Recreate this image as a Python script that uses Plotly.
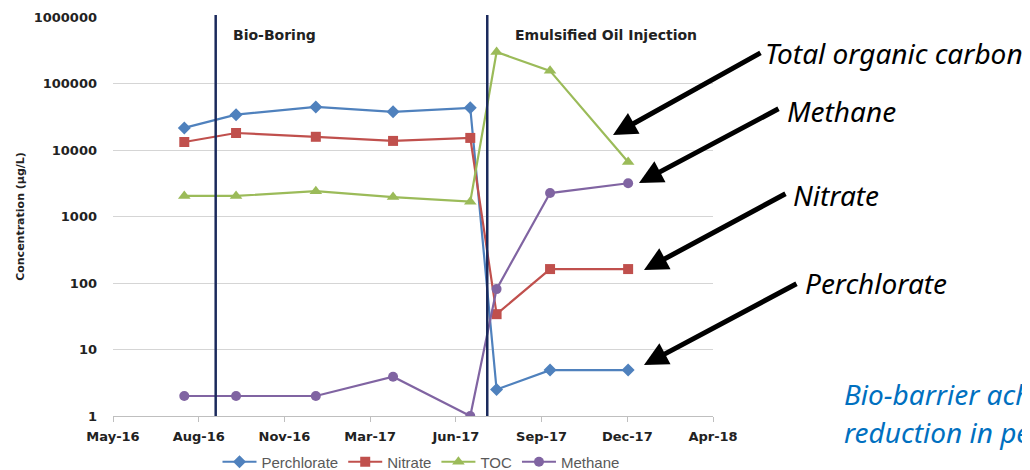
import plotly.graph_objects as go
import pandas as pd

# ---------------- data ----------------
sample_dates = ["2016-07-26", "2016-09-25", "2016-12-28", "2017-03-29",
                "2017-06-28", "2017-07-29", "2017-09-30", "2017-12-31"]
perchlorate = [21500, 34000, 44500, 37500, 43000, 2.5, 4.9, 4.9]
nitrate = [13200, 18000, 15800, 13700, 15200, 34, 162, 162]
toc = [2040, 2040, 2400, 1960, 1670, 297000, 155000, 6600]
methane = [2.0, 2.0, 2.0, 3.9, 1.0, 81, 2250, 3160]

event_dates = ["2016-09-01", "2017-07-18"]
event_labels = ["Bio-Boring", "Emulsified Oil Injection"]

x_tick_labels = ["May-16", "Aug-16", "Nov-16", "Mar-17", "Jun-17", "Sep-17", "Dec-17", "Apr-18"]
y_tick_values = [1, 10, 100, 1000, 10000, 100000, 1000000]

callout_labels = ["Total organic carbon", "Methane", "Nitrate", "Perchlorate"]
note_lines = ["Bio-barrier ach", "reduction in pe"]   # text as visible (cut at the slide edge)

# ---------------- layout helpers (reference-screen pixels) ----------------
OX, OY = 8, 8                 # page body margin offset
W, H = 1030 - OX, 470 - OY
L, R, T, B = 113, 713, 17, 416   # plot area in screen pixels
def px(x):
    return (x - L) / (R - L)
def py(y):
    return (B - y) / (B - T)

tick_dates = pd.date_range(start="2016-05-03", periods=len(x_tick_labels), freq="101D")

series = [
    ("Perchlorate", perchlorate, "#4F81BD", "diamond", 10),
    ("Nitrate", nitrate, "#C0504D", "square", 10),
    ("TOC", toc, "#9BBB59", "triangle-up", 11),
    ("Methane", methane, "#8064A2", "circle", 10),
]

fig = go.Figure()
for name, vals, col, sym, sz in series:
    fig.add_trace(go.Scatter(
        x=pd.to_datetime(sample_dates), y=vals, name=name, mode="lines+markers",
        line=dict(color=col, width=2.2),
        marker=dict(symbol=sym, size=sz, color=col),
    ))

shapes = []
for d in event_dates:
    shapes.append(dict(type="line", xref="x", yref="paper", x0=d, x1=d, y0=0, y1=1.005,
                       line=dict(color="#1B2A5C", width=2.5)))

BOLD = "DejaVu Sans"
annotations = [
    dict(x=px(231), y=py(35), xref="paper", yref="paper", text="<b>" + event_labels[0] + "</b>",
         showarrow=False, xanchor="left", yanchor="middle",
         font=dict(family=BOLD, size=14, color="#222")),
    dict(x=px(513), y=py(35), xref="paper", yref="paper", text="<b>" + event_labels[1] + "</b>",
         showarrow=False, xanchor="left", yanchor="middle",
         font=dict(family=BOLD, size=14, color="#222")),
]

# callout arrows: head and tail in screen pixels
arrow_geo = [((613, 135), (762, 52)), ((639, 183), (780, 108)),
             ((644, 270), (787, 193)), ((644, 365), (798, 283))]
text_pos = [(763, 53), (785, 111), (791, 195), (803, 283)]
for lab, (hd, tl), (tx, ty) in zip(callout_labels, arrow_geo, text_pos):
    annotations.append(dict(
        x=px(hd[0]), y=py(hd[1]), xref="paper", yref="paper", text="",
        showarrow=True, ax=tl[0] - hd[0], ay=tl[1] - hd[1], axref="pixel", ayref="pixel",
        arrowhead=2, arrowsize=0.95, arrowwidth=5, arrowcolor="black", standoff=0))
    annotations.append(dict(
        x=px(tx), y=py(ty), xref="paper", yref="paper", text="<i>" + lab + "</i>",
        showarrow=False, xanchor="left", yanchor="middle",
        font=dict(family="Noto Sans", size=28, color="black")))

for i, line in enumerate(note_lines):
    annotations.append(dict(
        x=px(842), y=py(394 + 38 * i), xref="paper", yref="paper", text="<i>" + line + "</i>",
        showarrow=False, xanchor="left", yanchor="middle",
        font=dict(family="Noto Sans", size=28, color="#0070C0")))

fig.update_layout(
    width=W, height=H,
    margin=dict(l=L - OX, r=W - (R - OX), t=T - OY, b=H - (B - OY), autoexpand=False),
    paper_bgcolor="white", plot_bgcolor="white",
    font=dict(family=BOLD, size=13, color="#222"),
    showlegend=True,
    legend=dict(orientation="h", x=px(421), y=py(462), xanchor="center", yanchor="middle",
                font=dict(family="Liberation Sans", size=15, color="#595959"),
                itemwidth=34, tracegroupgap=0, bgcolor="rgba(0,0,0,0)"),
    shapes=shapes, annotations=annotations,
)
fig.update_xaxes(
    type="date", range=[tick_dates[0], tick_dates[-1]],
    tickmode="array", tickvals=list(tick_dates),
    ticktext=["<b>" + t + "</b>" for t in x_tick_labels],
    showgrid=False, showline=True, linecolor="#BFBFBF", linewidth=1,
    ticks="outside", ticklen=5, tickcolor="#BFBFBF", ticklabelstandoff=3,
    tickfont=dict(family=BOLD, size=13, color="#222"), zeroline=False,
)
fig.update_yaxes(
    type="log", range=[0, 6], tickmode="array", tickvals=y_tick_values,
    ticktext=["<b>" + str(v) + "</b>" for v in y_tick_values],
    showgrid=True, gridcolor="#D5D5D5", gridwidth=1,
    showline=False, ticks="", ticklabelstandoff=15,
    tickfont=dict(family=BOLD, size=13, color="#222"),
    title=dict(text="<b>Concentration (µg/L)</b>", font=dict(family=BOLD, size=11, color="#222"),
               standoff=6),
)

fig.write_html("out.html")
